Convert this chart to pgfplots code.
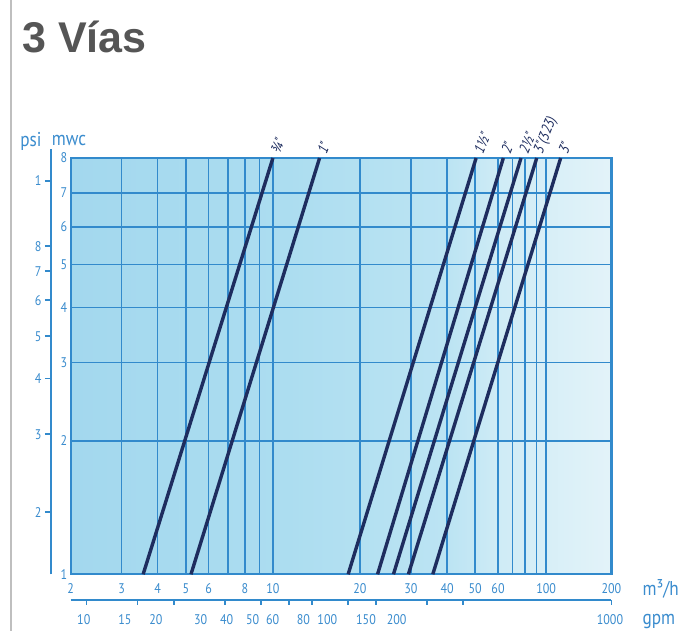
\documentclass[border=0pt]{standalone}
\usepackage{fontspec}
\setmainfont{PT Sans}
\newfontfamily\condfont[FakeStretch=0.86]{PT Sans}
\newfontfamily\titlefont{Liberation Sans}
\usepackage{pgfplots}
\pgfplotsset{compat=1.18}

\definecolor{gridblue}{RGB}{50,138,204}
\definecolor{labblue}{RGB}{58,140,206}
\definecolor{navy}{RGB}{30,45,95}
\definecolor{titlegray}{RGB}{85,85,85}
\definecolor{bgA}{RGB}{163,216,238}
\definecolor{bgB}{RGB}{172,221,240}
\definecolor{bgC}{RGB}{188,228,243}
\definecolor{bgD}{RGB}{208,236,246}
\definecolor{bgE}{RGB}{227,243,249}
\pgfdeclarehorizontalshading{bgshade}{100bp}{color(0bp)=(bgA); color(25bp)=(bgA);
  color(45bp)=(bgB); color(60bp)=(bgC); color(65bp)=(bgD); color(75bp)=(bgE); color(100bp)=(bgE)}

% the scales of the chart are not exactly logarithmic: piecewise log maps
\pgfplotsset{
  xmap/.style={x coord trafo/.code={\pgfmathparse{(##1<=60) ? 70.7+125.64*ln(##1/2) : 498+94.24*ln(##1/60)}}},
  ymap/.style={y coord trafo/.code={\pgfmathparse{(##1<=5) ? 192.61*ln(##1) : ((##1<=6) ? 310.0+204.6*ln(##1/5) : ((##1<=7) ? 347.3+220.6*ln(##1/6) : 381.3+262.1*ln(##1/7)))}}},
}
\tikzset{
  ticklab/.style={font=\condfont\fontsize{14}{14}\selectfont, text=labblue},
  line label/.style={pos=1, anchor=west, rotate=68, inner sep=4pt, text=navy,
    font=\condfont\itshape\fontsize{15}{15}\selectfont},
}

\begin{document}
\begin{tikzpicture}
\path[use as bounding box, fill=white] (0pt,-56.7pt) rectangle (678pt,574.3pt);
\draw[black!25, line width=1.2pt] (11pt,574.3pt) -- (11pt,-56.7pt);
\node[anchor=base west, inner sep=0, text=titlegray,
  font=\titlefont\bfseries\fontsize{43}{43}\selectfont] at (22pt,521.3pt) {3 Vías};

% main chart: flow (m3/h) against head loss (mwc)
\begin{axis}[
  at={(70.7pt,0pt)}, anchor=south west,
  xmap, ymap, x=1pt, y=1pt,
  xmin=2, xmax=200, ymin=1, ymax=8,
  clip=false,
  axis background/.style={shade, shading=bgshade},
  xtick={2,3,4,5,6,8,10,20,30,40,50,60,100,200},
  xticklabels={2,3,4,5,6,8,10,20,30,40,50,60,100,200},
  minor xtick={7,9,70,80,90},
  ytick={1,2,3,4,5,6,7,8},
  yticklabels={1,2,3,4,5,6,7,8},
  major tick length=0pt, minor tick length=0pt,
  xmajorgrids, xminorgrids, ymajorgrids,
  grid style={gridblue, line width=1.4pt},
  minor grid style={gridblue, line width=1.4pt},
  axis line style={gridblue, line width=2.2pt},
  xticklabel style={ticklab, yshift=-6pt},
  yticklabel style={ticklab},
]
\addplot[navy, line width=3.4pt] coordinates {(3.56,1) (10.0,8)} node[line label] {¾"};
\addplot[navy, line width=3.4pt] coordinates {(5.21,1) (14.5,8)} node[line label] {1"};
\addplot[navy, line width=3.4pt] coordinates {(18.2,1) (50.4,8)} node[line label] {1½"};
\addplot[navy, line width=3.4pt] coordinates {(23.0,1) (63.5,8)} node[line label] {2"};
\addplot[navy, line width=3.4pt] coordinates {(26.1,1) (76.6,8)} node[line label] {2½"};
\addplot[navy, line width=3.4pt] coordinates {(29.4,1) (90.5,8)} node[line label] {3"(323)};
\addplot[navy, line width=3.4pt] coordinates {(35.7,1) (116.7,8)} node[line label] {3"};
\end{axis}

% psi scale (left)
\begin{axis}[
  at={(51pt,0pt)}, anchor=south west,
  ymap, x=1pt, y=1pt,
  xmin=0, xmax=10, ymin=1, ymax=8.28,
  hide x axis, axis y line*=left,
  y axis line style={-, gridblue, line width=2pt},
  ytick={1.380,2.069,2.766,3.441,4.148,4.823,5.465,7.33},
  yticklabels={2,3,4,5,6,7,8,1},
  tick align=outside, major tick length=6pt,
  tick style={gridblue, line width=1.6pt},
  yticklabel style={ticklab},
]
\end{axis}

% gpm scale (bottom)
\begin{axis}[
  at={(70.7pt,-25.7pt)}, anchor=south west,
  xmap, x=1pt, y=1pt,
  xmin=2, xmax=200, ymin=0, ymax=1,
  hide y axis, axis x line*=bottom,
  x axis line style={-, gridblue, line width=2pt},
  xtick={2.271,3.407,4.543,6.814,9.085,11.356,13.627,18.170,22.712,34.07,45.42,200},
  xticklabels={{},{},{},{},{},{},{},{},{},{},{},{}},
  tick align=outside, major tick length=5pt,
  tick style={gridblue, line width=1.6pt},
  extra x ticks={2.22,3.08,3.94,5.63,6.92,8.51,9.98,12.74,15.42,20.98,26.78,196.9},
  extra x tick labels={10,15,20,30,40,50,60,80,100,150,200,1000},
  extra x tick style={major tick length=0pt, xticklabel style={ticklab, yshift=-11pt}},
]
\end{axis}

\node[anchor=center, text=labblue, font=\condfont\fontsize{20}{20}\selectfont] at (31pt,433.3pt) {psi};
\node[anchor=center, text=labblue, font=\condfont\fontsize{20}{20}\selectfont] at (69pt,433.3pt) {mwc};
\node[anchor=west, text=labblue, font=\condfont\fontsize{20}{20}\selectfont] at (639pt,-14.7pt) {m³/h};
\node[anchor=west, text=labblue, font=\condfont\fontsize{20}{20}\selectfont] at (639pt,-47.7pt) {gpm};
\end{tikzpicture}
\end{document}
